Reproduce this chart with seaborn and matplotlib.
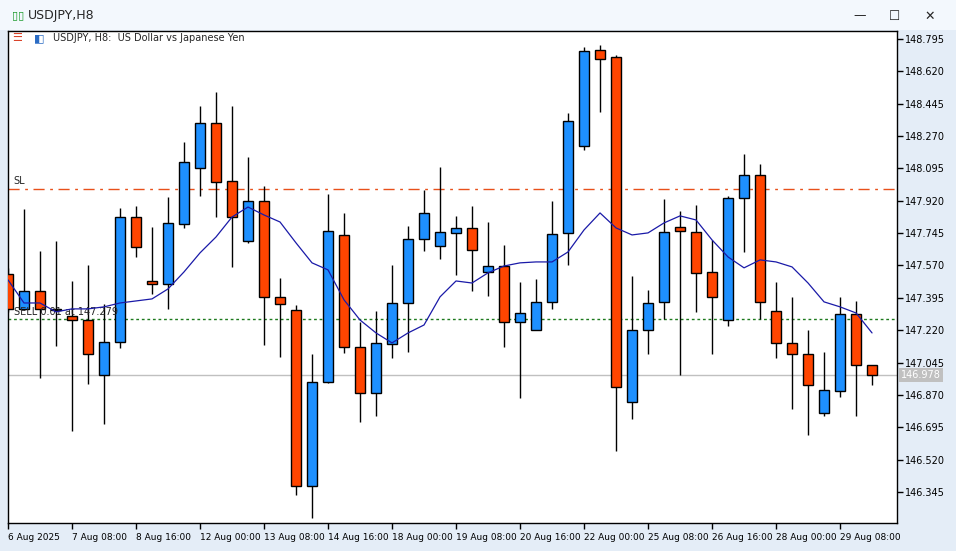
import matplotlib
matplotlib.use("Agg")
from matplotlib import pyplot as plt
from matplotlib.patches import Rectangle
import numpy as np
import pandas as pd
import seaborn as sns

# USDJPY H8 candles
opens = [147.524, 147.335, 147.432, 147.335, 147.297, 147.275, 146.978, 147.156, 147.832, 147.486,
         147.470, 147.795, 148.097, 148.341, 148.027, 147.703, 147.919, 147.400, 147.329, 146.378,
         146.940, 147.735, 147.129, 146.881, 147.146, 147.367, 147.713, 147.676, 147.746, 147.773,
         147.535, 147.567, 147.265, 147.221, 147.373, 147.746, 148.216, 148.736, 148.698, 146.832,
         147.221, 147.373, 147.778, 147.751, 147.535, 147.275, 147.935, 148.060, 147.324, 147.151,
         147.091, 146.772, 146.891, 147.308, 147.032]
highs = [147.557, 147.876, 147.649, 147.703, 147.486, 147.573, 147.362, 147.881, 147.892, 147.778,
         147.941, 148.238, 148.433, 148.508, 148.433, 148.157, 148.000, 147.502, 147.356, 147.091,
         147.957, 147.854, 147.265, 147.324, 147.573, 147.784, 147.978, 148.103, 147.838, 147.892,
         147.805, 147.681, 147.481, 147.497, 147.919, 148.395, 148.752, 148.763, 148.708, 147.513,
         147.438, 147.930, 147.865, 147.897, 147.708, 147.946, 148.173, 148.119, 147.481, 147.400,
         147.221, 147.102, 147.400, 147.378, 147.032]
lows = [147.319, 147.329, 146.962, 147.135, 146.675, 146.929, 146.713, 147.124, 147.616, 147.416,
        147.335, 147.773, 147.946, 147.832, 147.562, 147.692, 147.140, 147.075, 146.329, 146.205,
        146.935, 147.097, 146.724, 146.756, 147.070, 147.102, 147.649, 147.605, 147.519, 147.432,
        147.405, 147.129, 146.854, 147.221, 147.335, 147.573, 148.195, 148.400, 146.567, 146.740,
        147.091, 147.281, 146.978, 147.319, 147.091, 147.243, 147.643, 147.281, 147.070, 146.794,
        146.653, 146.756, 146.859, 146.756, 146.924]
closes = [147.335, 147.432, 147.335, 147.329, 147.275, 147.091, 147.156, 147.832, 147.670, 147.470,
          147.800, 148.130, 148.341, 148.022, 147.832, 147.919, 147.400, 147.362, 146.378, 146.940,
          147.757, 147.129, 146.881, 147.151, 147.367, 147.713, 147.854, 147.751, 147.773, 147.654,
          147.567, 147.265, 147.313, 147.373, 147.740, 148.352, 148.730, 148.687, 146.913, 147.221,
          147.367, 147.751, 147.757, 147.530, 147.400, 147.935, 148.060, 147.373, 147.151, 147.091,
          146.924, 146.897, 147.308, 147.032, 146.978]
# moving average line as drawn in the terminal
ma_values = [147.492, 147.367, 147.367, 147.319, 147.335, 147.335, 147.346, 147.367, 147.378, 147.389,
             147.443, 147.535, 147.638, 147.724, 147.832, 147.886, 147.843, 147.805, 147.692, 147.584,
             147.546, 147.384, 147.275, 147.205, 147.151, 147.205, 147.248, 147.400, 147.486, 147.475,
             147.530, 147.567, 147.584, 147.589, 147.589, 147.643, 147.762, 147.854, 147.773, 147.735,
             147.746, 147.800, 147.838, 147.816, 147.708, 147.616, 147.557, 147.600, 147.589, 147.562,
             147.475, 147.373, 147.346, 147.313, 147.205]

x_labels = ["6 Aug 2025", "7 Aug 08:00", "8 Aug 16:00", "12 Aug 00:00", "13 Aug 08:00",
            "14 Aug 16:00", "18 Aug 00:00", "19 Aug 08:00", "20 Aug 16:00", "22 Aug 00:00",
            "25 Aug 08:00", "26 Aug 16:00", "28 Aug 00:00", "29 Aug 08:00"]
y_ticks = [148.795, 148.620, 148.445, 148.270, 148.095, 147.920, 147.745,
           147.570, 147.395, 147.220, 147.045, 146.870, 146.695, 146.520, 146.345]
sl_level = 147.984
sell_level = 147.281
last_price = 146.978

BULL = "#1e90ff"
BEAR = "#ff4500"

sns.set_style("white")
plt.rcParams['font.family'] = ['DejaVu Sans']

df = pd.DataFrame(dict(open=opens, high=highs, low=lows, close=closes, ma=ma_values))
df["idx"] = np.arange(len(df))
df["bull"] = df["close"] >= df["open"]

fig = plt.figure(figsize=(9.56, 5.51), dpi=100, facecolor="#e4edf7")
# title bar
fig.patches.append(Rectangle((0, 1 - 30 / 551), 1, 30 / 551, transform=fig.transFigure,
                             facecolor="#f3f8fd", edgecolor="none", zorder=0))
fig.text(28 / 956, 1 - 15 / 551, "USDJPY,H8", fontsize=9, va="center", ha="left")
fig.text(12 / 956, 1 - 15 / 551, "▯▯", fontsize=8, va="center", ha="left", color="#1a9a2a")
for xp, s in [(860, "—"), (895, "☐"), (930, "✕")]:
    fig.text(xp / 956, 1 - 16 / 551, s, fontsize=9, va="center", ha="center")

ax = fig.add_axes([8 / 956, 28 / 551, 889 / 956, 492 / 551])
ax.set_facecolor("white")

# wicks and bodies
ax.vlines(df["idx"], df["low"], df["high"], color="black", lw=1, zorder=2)
body_bottom = df[["open", "close"]].min(axis=1)
body_height = (df["close"] - df["open"]).abs().clip(lower=0.004)
ax.bar(df["idx"], body_height, bottom=body_bottom, width=0.62,
       color=np.where(df["bull"], BULL, BEAR), edgecolor="black", linewidth=1, zorder=3)

sns.lineplot(data=df, x="idx", y="ma", ax=ax, color="#1a1aa8", lw=0.9, zorder=4)

ax.axhline(sl_level, color="#e8501a", lw=1, ls=(0, (8, 4, 2, 4)), zorder=1)
ax.axhline(sell_level, color="#1e7a1e", lw=1, ls=(0, (2, 2)), zorder=1)
ax.axhline(last_price, color="#c0c0c0", lw=1, zorder=1)
ax.text(0.35, sl_level + 0.015, "SL", fontsize=7, va="bottom", ha="left")
ax.text(0.35, sell_level + 0.01, "SELL 0.01 at 147.279", fontsize=7, va="bottom", ha="left")
ax.text(2.8, 148.80, "USDJPY, H8:  US Dollar vs Japanese Yen", fontsize=7, va="center", ha="left")
ax.text(0.25, 148.80, "☰", fontsize=8, va="center", ha="left", color="#d9432a")
ax.text(1.6, 148.80, "◧", fontsize=8, va="center", ha="left", color="#2b6cc4")

ax.set_xlim(0, 55.56)
ax.set_ylim(146.177, 148.838)
ax.yaxis.tick_right()
ax.set_yticks(y_ticks)
ax.set_yticklabels([f"{v:.3f}" for v in y_ticks])
ax.set_xticks(np.arange(0, 4 * len(x_labels), 4))
ax.set_xticklabels(x_labels, ha="left")
ax.tick_params(axis="both", labelsize=7, length=4, width=1, direction="out", pad=2,
               right=True, bottom=True, left=False, colors="black")
ax.tick_params(axis="x", labelsize=6.5, pad=3)
ax.set_xlabel("")
ax.set_ylabel("")
for sp in ax.spines.values():
    sp.set_color("black")
    sp.set_linewidth(1)

ax.text(1.005, (last_price - 146.177) / (148.838 - 146.177), f"{last_price:.3f}",
        transform=ax.transAxes, fontsize=7, color="white", va="center", ha="left",
        bbox=dict(facecolor="#c0c0c0", edgecolor="none", pad=1.5))

fig.savefig("out.png", dpi=100, facecolor=fig.get_facecolor())
